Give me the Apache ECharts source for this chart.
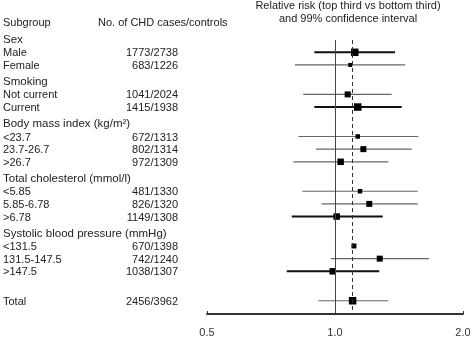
<!DOCTYPE html>
<html><head><meta charset="utf-8">
<script src="https://cdn.jsdelivr.net/npm/echarts@6/dist/echarts.min.js"></script>
<style>html,body{margin:0;padding:0;background:#fff}#c{width:474px;height:340px}</style>
</head><body><div id="c"></div>
<script>
// ---- data ----
const groupTitles = ['Sex','Smoking','Body mass index (kg/m²)','Total cholesterol (mmol/l)','Systolic blood pressure (mmHg)',''];
const subgroups = ['Male','Female','Not current','Current','<23.7','23.7-26.7','>26.7','<5.85','5.85-6.78','>6.78','<131.5','131.5-147.5','>147.5','Total'];
const subgroupGroup = [0,0,1,1,2,2,2,3,3,3,4,4,4,5];
const casesControls = ['1773/2738','683/1226','1041/2024','1415/1938','672/1313','802/1314','972/1309','481/1330','826/1320','1149/1308','670/1398','742/1240','1038/1307','2456/3962'];
const relRisk = [1.113,1.086,1.071,1.131,1.131,1.166,1.031,1.145,1.204,1.009,1.108,1.274,0.988,1.100];
const ciLow  = [0.894,0.805,0.842,0.894,0.820,0.902,0.798,0.838,0.930,0.791,null,0.977,0.770,0.914];
const ciHigh = [1.384,1.463,1.359,1.435,1.570,1.515,1.335,1.565,1.565,1.295,null,1.664,1.271,1.335];
const weights = [7.5,4,6,7.5,4.5,6,6.5,4.5,6,6.5,5,6,6.5,7.5];
const xTicks = [0.5,1.0,2.0];
const overallRR = relRisk[subgroups.indexOf('Total')];

// ---- layout / style ----
const FONT = '"Liberation Sans", Arial, Helvetica, sans-serif';
const TXT = '#222';
const GRID_TOP = 40, GRID_BOTTOM = 26, GRID_LEFT = 207, GRID_RIGHT = 11;
const FIRST = 12.3, STEP = 12.65, EXTRA = 16.8;
const thickRows = new Set(['Male','Current','>6.78','>147.5']);

const seriesData = subgroups.map((s, i) => {
  const g = subgroupGroup[i];
  const y = FIRST + i * STEP + g * EXTRA;
  const has = ciLow[i] != null && ciHigh[i] != null ? 1 : 0;
  return [relRisk[i], y, has ? ciLow[i] : relRisk[i], has ? ciHigh[i] : relRisk[i], weights[i], i, has];
});

const chart = echarts.init(document.getElementById('c'), null, {renderer: 'canvas'});
chart.setOption({
  animation: false,
  backgroundColor: '#fff',
  grid: {top: GRID_TOP, bottom: GRID_BOTTOM, left: GRID_LEFT, right: GRID_RIGHT},
  xAxis: {
    type: 'log', logBase: 2, min: xTicks[0], max: xTicks[xTicks.length - 1], interval: 1,
    position: 'bottom',
    axisLine: {show: true, onZero: false, lineStyle: {color: '#333', width: 2}},
    axisTick: {show: true, inside: true, length: 3, lineStyle: {color: '#333', width: 1}},
    splitLine: {show: false},
    axisLabel: {formatter: v => Number(v).toFixed(1), fontSize: 11, color: '#333', fontFamily: FONT, margin: 13}
  },
  yAxis: {type: 'value', min: 0, max: 340 - GRID_TOP - GRID_BOTTOM, inverse: true, show: false},
  graphic: [
    {type: 'text', left: 3, top: 17, style: {text: 'Subgroup', font: '11px ' + FONT, fill: TXT}},
    {type: 'text', left: 98, top: 17, style: {text: 'No. of CHD cases/controls', font: '11px ' + FONT, fill: TXT}},
    {type: 'text', x: 348, y: 0, style: {text: 'Relative risk (top third vs bottom third)', font: '11px ' + FONT, fill: TXT, align: 'center'}},
    {type: 'text', x: 348, y: 13, style: {text: 'and 99% confidence interval', font: '11px ' + FONT, fill: TXT, align: 'center'}}
  ],
  series: [{
    type: 'custom',
    clip: false,
    encode: {x: 0, y: 1},
    data: seriesData,
    renderItem: function (params, api) {
      const idx = api.value(5);
      const yv = api.value(1);
      const pc = api.coord([api.value(0), yv]);
      const children = [];
      const name = subgroups[idx];
      const thick = thickRows.has(name);
      if (api.value(6)) {
        const a = api.coord([api.value(2), yv]);
        const b = api.coord([api.value(3), yv]);
        children.push({type: 'line', shape: {x1: a[0], y1: a[1], x2: b[0], y2: b[1]},
          style: {stroke: thick ? '#111' : '#666', lineWidth: thick ? 2 : 1.2}});
      }
      const s = api.value(4);
      children.push({type: 'rect', shape: {x: pc[0] - s / 2, y: pc[1] - s / 2, width: s, height: s}, style: {fill: '#000'}});
      children.push({type: 'text', x: 3, y: pc[1] + 1, style: {text: name, font: '11px ' + FONT, fill: TXT, verticalAlign: 'middle'}});
      children.push({type: 'text', x: 178, y: pc[1] + 1, style: {text: casesControls[idx], font: '11px ' + FONT, fill: TXT, align: 'right', verticalAlign: 'middle'}});
      const g = subgroupGroup[idx];
      if ((idx === 0 || subgroupGroup[idx - 1] !== g) && groupTitles[g]) {
        const hy = api.coord([1, yv - STEP])[1];
        children.push({type: 'text', x: 3, y: hy, style: {text: groupTitles[g], font: '11.5px ' + FONT, fill: TXT, verticalAlign: 'middle'}});
      }
      return {type: 'group', children: children};
    },
    markLine: {
      silent: true, symbol: 'none', label: {show: false},
      data: [
        {xAxis: 1, lineStyle: {type: 'solid', color: '#444', width: 1}},
        {xAxis: overallRR, lineStyle: {type: [4, 3], color: '#333', width: 1}}
      ]
    }
  }]
});
</script>
</body></html>
